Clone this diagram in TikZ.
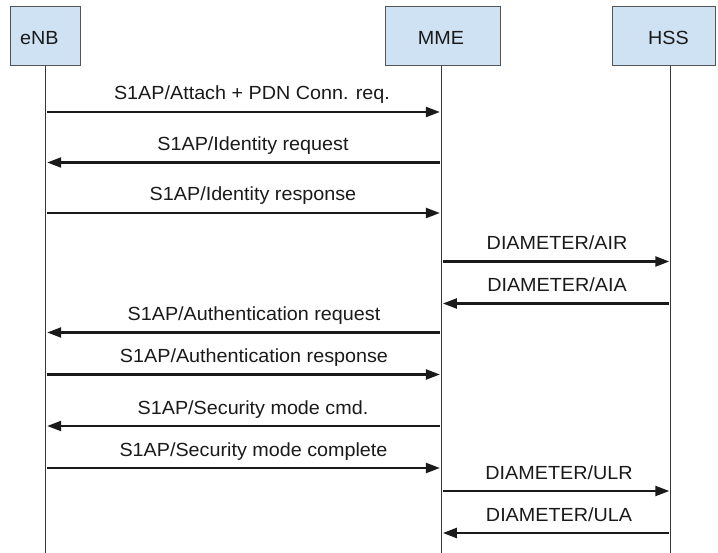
\documentclass[tikz,border=0pt]{standalone}
\usepackage{fontspec}
\setmainfont[FakeStretch=1.04]{Liberation Sans}
\usetikzlibrary{arrows.meta}
\definecolor{actorfill}{HTML}{CFE2F3}
\definecolor{actorline}{HTML}{555555}
\definecolor{lifeline}{HTML}{383838}
\definecolor{ink}{HTML}{1A1A1A}
\begin{document}
\begin{tikzpicture}[x=1pt,y=-1pt,
  font=\fontsize{19}{22}\selectfont,
  actor/.style={draw=actorline, fill=actorfill, line width=1pt, inner sep=0pt},
  actorname/.style={anchor=base, inner sep=0pt, text=ink},
  lifelinestyle/.style={draw=lifeline, line width=1pt},
  msg/.style={draw=ink, line width=2.2pt, -{Triangle[length=14pt,width=10pt]},
              shorten <=1.5pt, shorten >=1.5pt},
  lbl/.style={anchor=base, inner sep=0pt, text=ink}]
\useasboundingbox (0,0) rectangle (718,553);

% participants
\node[actor, minimum width=70pt, minimum height=59pt] (enb) at (45,36.5) {};
\node[actor, minimum width=115pt, minimum height=59pt] (mme) at (442.5,36.5) {};
\node[actor, minimum width=103pt, minimum height=59pt] (hss) at (663.5,36.5) {};
\node[actorname] (enbname) at (39.4,45) {eNB};
\node[actorname] (mmename) at (441,45) {MME};
\node[actorname] (hssname) at (668.5,45) {HSS};

% lifelines
\coordinate (enbTop) at (45.7,66);   \coordinate (enbEnd) at (45.7,553);
\coordinate (mmeTop) at (441.4,66);  \coordinate (mmeEnd) at (441.4,553);
\coordinate (hssTop) at (670.8,66);  \coordinate (hssEnd) at (670.8,553);
\draw[lifelinestyle] (enbTop) -- (enbEnd);
\draw[lifelinestyle] (mmeTop) -- (mmeEnd);
\draw[lifelinestyle] (hssTop) -- (hssEnd);

% messages
\draw[msg] (enbTop |- 0,112) -- (mmeTop |- 0,112);
\node[lbl] (m1) at (252,100) {S1AP/Attach + PDN Conn. req.};

\draw[msg] (mmeTop |- 0,162.5) -- (enbTop |- 0,162.5);
\node[lbl] (m2) at (253,150.5) {S1AP/Identity request};

\draw[msg] (enbTop |- 0,213) -- (mmeTop |- 0,213);
\node[lbl] (m3) at (253,201) {S1AP/Identity response};

\draw[msg] (mmeTop |- 0,261.5) -- (hssTop |- 0,261.5);
\node[lbl] (m4) at (557,249.5) {DIAMETER/AIR};

\draw[msg] (hssTop |- 0,303.5) -- (mmeTop |- 0,303.5);
\node[lbl] (m5) at (557,291.5) {DIAMETER/AIA};

\draw[msg] (mmeTop |- 0,332.5) -- (enbTop |- 0,332.5);
\node[lbl] (m6) at (254,320.5) {S1AP/Authentication request};

\draw[msg] (enbTop |- 0,374.5) -- (mmeTop |- 0,374.5);
\node[lbl] (m7) at (254,362.5) {S1AP/Authentication response};

\draw[msg] (mmeTop |- 0,426) -- (enbTop |- 0,426);
\node[lbl] (m8) at (253,414) {S1AP/Security mode cmd.};

\draw[msg] (enbTop |- 0,468) -- (mmeTop |- 0,468);
\node[lbl] (m9) at (253.5,456) {S1AP/Security mode complete};

\draw[msg] (mmeTop |- 0,491) -- (hssTop |- 0,491);
\node[lbl] (m10) at (559,479) {DIAMETER/ULR};

\draw[msg] (hssTop |- 0,533) -- (mmeTop |- 0,533);
\node[lbl] (m11) at (559,521) {DIAMETER/ULA};
\end{tikzpicture}
\end{document}
